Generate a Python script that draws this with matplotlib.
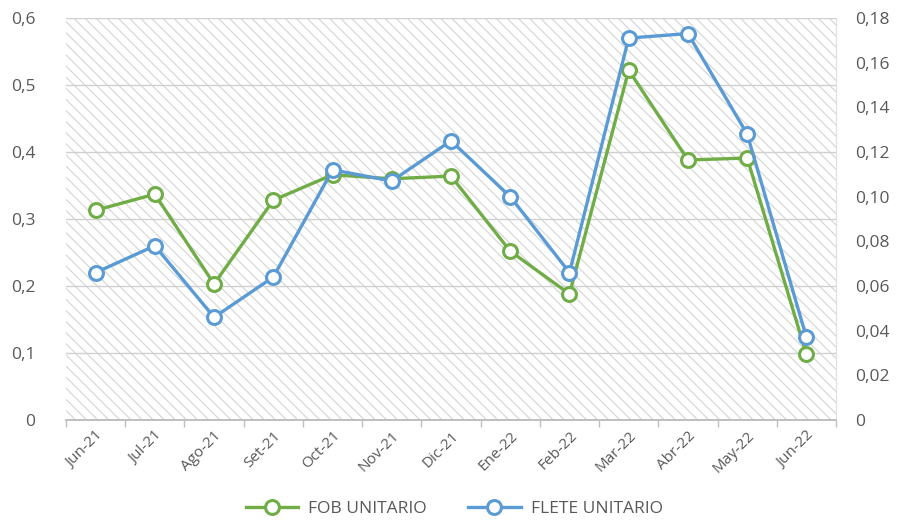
import matplotlib.pyplot as plt
from matplotlib.patches import Rectangle
from matplotlib.lines import Line2D

plt.rcParams["font.family"] = ["Open Sans", "DejaVu Sans"]
plt.rcParams["hatch.linewidth"] = 0.8

months = ["Jun-21", "Jul-21", "Ago-21", "Set-21", "Oct-21", "Nov-21", "Dic-21",
          "Ene-22", "Feb-22", "Mar-22", "Abr-22", "May-22", "Jun-22"]
fob = [0.313, 0.337, 0.203, 0.328, 0.366, 0.360, 0.364,
       0.252, 0.188, 0.522, 0.388, 0.391, 0.098]
flete = [0.066, 0.078, 0.046, 0.064, 0.112, 0.107, 0.125,
         0.100, 0.066, 0.171, 0.173, 0.128, 0.037]
left_ticks = [0, 0.1, 0.2, 0.3, 0.4, 0.5, 0.6]
right_ticks = [0, 0.02, 0.04, 0.06, 0.08, 0.10, 0.12, 0.14, 0.16, 0.18]

green = "#70AD47"
blue = "#5B9BD5"
txt = "#595959"

fig = plt.figure(figsize=(9.05, 5.28), dpi=100)
ax = fig.add_axes([0.0729, 0.2045, 0.8509, 0.7615])
ax2 = ax.twinx()

# hatched plot area
ax.add_patch(Rectangle((0, 0), 1, 1, transform=ax.transAxes, facecolor="white",
                       edgecolor="#d4d4d4", hatch="\\\\\\", lw=0, zorder=0))

x = list(range(len(months)))
ax.set_xlim(-0.5, len(months) - 0.5)
ax.set_ylim(0, 0.6)
ax2.set_ylim(0, 0.18)

for v in left_ticks[1:]:
    ax.axhline(v, color="#d0d0d0", lw=1, zorder=1)

ax.plot(x, fob, color=green, lw=2.4, marker="o", ms=10, mfc="white",
        mec=green, mew=2.2, zorder=3)
ax2.plot(x, flete, color=blue, lw=2.4, marker="o", ms=10, mfc="white",
         mec=blue, mew=2.2, zorder=3)

ax.set_yticks(left_ticks)
ax.set_yticklabels([("%g" % v).replace(".", ",") for v in left_ticks])
ax2.set_yticks(right_ticks)
ax2.set_yticklabels(["0"] + [("%.2f" % v).replace(".", ",") for v in right_ticks[1:]])

ax.set_xticks(x)
ax.set_xticklabels(months, rotation=45, ha="right", rotation_mode="anchor")
ax.set_xticks([i - 0.5 for i in range(len(months) + 1)], minor=True)
ax.tick_params(axis="x", which="major", length=0, pad=6, labelsize=11, labelcolor=txt)
ax.tick_params(axis="x", which="minor", length=5, color="#bfbfbf", width=1)
ax.tick_params(axis="y", length=0, pad=22, labelsize=12.5, labelcolor=txt)
ax2.tick_params(axis="y", length=0, pad=14, labelsize=12.5, labelcolor=txt)

for a in (ax, ax2):
    for s in ("left", "top"):
        a.spines[s].set_visible(False)
    a.spines["right"].set_color("#e0e0e0")
    a.spines["bottom"].set_color("#bfbfbf")
    a.spines["bottom"].set_linewidth(1.2)
ax.set_zorder(ax2.get_zorder() - 1)
ax2.patch.set_visible(False)

handles = [Line2D([], [], color=green, lw=2.4, marker="o", ms=10, mfc="white", mec=green, mew=2.2),
           Line2D([], [], color=blue, lw=2.4, marker="o", ms=10, mfc="white", mec=blue, mew=2.2)]
fig.legend(handles, ["FOB UNITARIO", "FLETE UNITARIO"], loc="center",
           bbox_to_anchor=(0.502, 0.036), ncol=2, frameon=False, fontsize=12.5,
           labelcolor=txt, columnspacing=2.4, handlelength=3, handletextpad=0.6)

fig.savefig("out.png", dpi=100)
